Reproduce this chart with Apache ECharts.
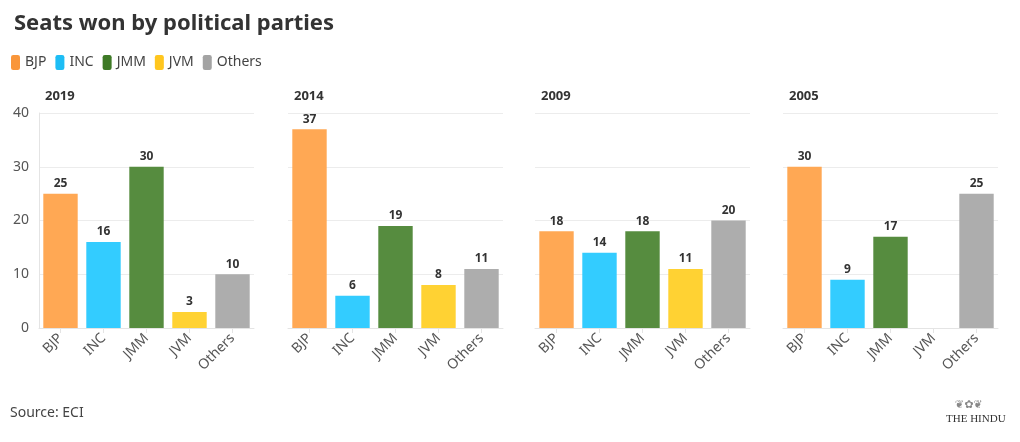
<!DOCTYPE html>
<html>
<head>
<meta charset="utf-8">
<script src="https://cdn.jsdelivr.net/npm/echarts@6/dist/echarts.min.js"></script>
<style>
html,body{margin:0;padding:0;background:#fff;}
#c{width:1020px;height:442px;}
</style>
</head>
<body>
<div id="c"></div>
<script>
const parties = ['BJP', 'INC', 'JMM', 'JVM', 'Others'];
const years = ['2019', '2014', '2009', '2005'];
const seats2019 = [25, 16, 30, 3, 10];
const seats2014 = [37, 6, 19, 8, 11];
const seats2009 = [18, 14, 18, 11, 20];
const seats2005 = [30, 9, 17, null, 25];
const yTicks = [0, 10, 20, 30, 40];

const allSeats = [seats2019, seats2014, seats2009, seats2005];
const barColors = ['#FFA854', '#33CCFF', '#568C3F', '#FFD233', '#ADADAD'];
const legendColors = ['#F9963A', '#1DBDF5', '#3E7A26', '#FFC61E', '#A3A3A3'];
const FONT = '"Noto Sans", sans-serif';

const gridLefts = [39, 288, 535, 783];
const grids = [], xAxes = [], yAxes = [], series = [], titles = [];

gridLefts.forEach((l, i) => {
  grids.push({left: l, top: 113, width: 215, height: 215});
  xAxes.push({
    type: 'category', gridIndex: i, data: parties,
    axisLine: {show: true, lineStyle: {color: '#e4e4e4'}},
    axisTick: {show: true, alignWithLabel: true, length: 5, lineStyle: {color: '#e4e4e4'}},
    axisLabel: {rotate: 45, color: '#555', fontSize: 14, fontFamily: FONT, margin: 8}
  });
  yAxes.push({
    type: 'value', gridIndex: i, min: 0, max: 40, interval: 10,
    axisLine: {show: i === 0, lineStyle: {color: '#e4e4e4'}},
    axisTick: {show: false},
    axisLabel: {show: i === 0, color: '#555', fontSize: 14, fontFamily: FONT, margin: 10,
      formatter: v => yTicks.includes(v) ? String(v) : ''},
    splitLine: {show: true, lineStyle: {color: '#ececec'}}
  });
  series.push({
    type: 'bar', xAxisIndex: i, yAxisIndex: i,
    barCategoryGap: '20%',
    data: allSeats[i].map((v, j) => ({value: v, itemStyle: {color: barColors[j]}})),
    label: {show: true, position: 'top', distance: 4, color: '#333', fontSize: 12, fontWeight: 'bold', fontFamily: FONT,
      formatter: p => (p.value == null ? '' : p.value)},
    silent: true
  });
  titles.push({
    text: years[i], left: l + 1, top: 85,
    textStyle: {fontSize: 13, fontWeight: 'bold', color: '#333', fontFamily: FONT}
  });
});

parties.forEach((p, j) => {
  series.push({type: 'line', name: p, data: [], xAxisIndex: 0, yAxisIndex: 0, color: legendColors[j]});
});

titles.unshift({
  text: 'Seats won by political parties', left: 9, top: 8,
  textStyle: {fontSize: 22, fontWeight: 'bold', color: '#333', fontFamily: FONT}
});

const chart = echarts.init(document.getElementById('c'), null, {renderer: 'canvas'});
chart.setOption({
  animation: false,
  title: titles,
  legend: {
    data: parties, left: 6, top: 50, icon: 'roundRect', itemWidth: 9, itemHeight: 15, itemGap: 9,
    textStyle: {color: '#444', fontSize: 14, fontFamily: FONT, padding: [0, 0, 0, 0]},
    selectedMode: false
  },
  grid: grids, xAxis: xAxes, yAxis: yAxes, series: series,
  graphic: [
    {type: 'text', left: 10, top: 406, style: {text: 'Source: ECI', fill: '#444', fontSize: 14, fontFamily: FONT}},
    {type: 'text', left: 946, top: 414, style: {text: 'THE HINDU', fill: '#333', fontSize: 11, fontFamily: '"Liberation Serif", serif'}},
    {type: 'text', left: 955, top: 400, style: {text: '❦✿❦', fill: '#888', fontSize: 11, fontFamily: '"DejaVu Sans", sans-serif'}}
  ]
});
</script>
</body>
</html>
